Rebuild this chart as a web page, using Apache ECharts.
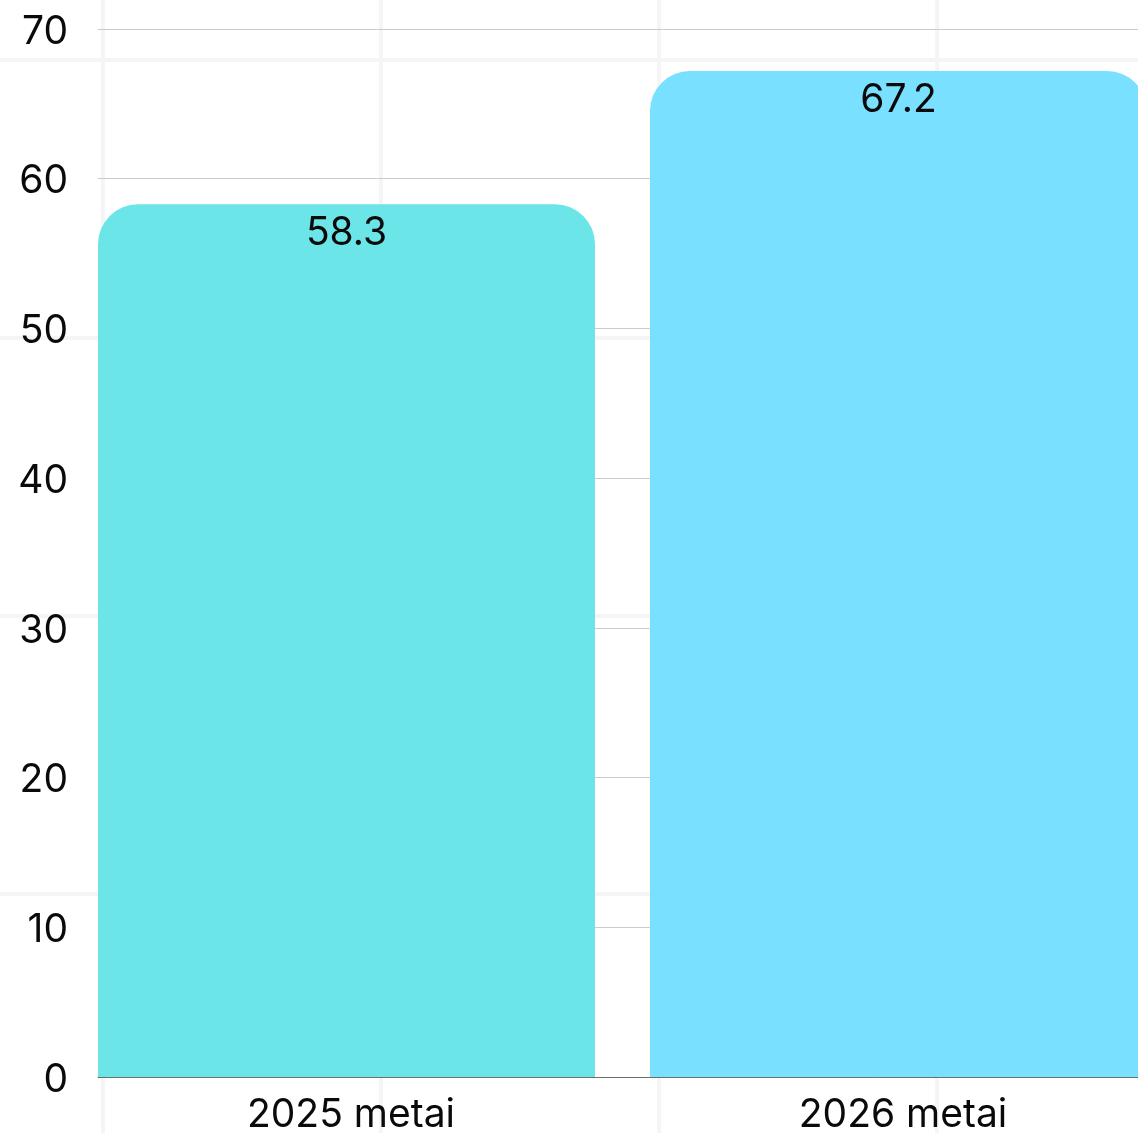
<!DOCTYPE html>
<html>
<head>
<meta charset="utf-8">
<script src="https://cdn.jsdelivr.net/npm/echarts@6/dist/echarts.min.js"></script>
<style>
  html, body { margin: 0; padding: 0; }
  body {
    width: 1138px; height: 1133px; overflow: hidden;
    background-color: #ffffff;
    background-image:
      linear-gradient(to right, #f5f5f7 0, #f5f5f7 4px, transparent 4px),
      linear-gradient(to bottom, #f5f5f7 0, #f5f5f7 4px, transparent 4px);
    background-size: 278px 100%, 100% 278px;
    background-position: 101px 0, 0 58px;
  }
  #chart { width: 1138px; height: 1133px; }
</style>
</head>
<body>
<div id="chart"></div>
<script>
const categories = ['2025 metai', '2026 metai'];
const values = [58.3, 67.2];
const barColors = ['#6ce5e8', '#7ae0ff'];
const yMin = 0;
const yMax = 70;
const yInterval = 10;

const chart = echarts.init(document.getElementById('chart'), null, { renderer: 'canvas' });
const fontFamily = 'Inter, Roboto, sans-serif';
const fontSize = 39;

const option = {
  backgroundColor: 'transparent',
  animation: false,
  grid: [
    { left: 98, right: 0, top: 29, bottom: 56, outerBoundsMode: 'none', containLabel: false },
    { left: 70.5, right: -36.5, top: 29, bottom: 56, outerBoundsMode: 'none', containLabel: false }
  ],
  xAxis: [
    {
      gridIndex: 0, type: 'category', data: categories,
      axisLabel: { show: false }, axisTick: { show: false },
      axisLine: { show: true, lineStyle: { color: '#6e6e6e', width: 1 } },
      splitLine: { show: false }
    },
    {
      gridIndex: 1, type: 'category', data: categories,
      axisLine: { show: false }, axisTick: { show: false }, splitLine: { show: false },
      axisLabel: {
        show: true, color: '#0a0a0a', fontSize: fontSize, fontFamily: fontFamily,
        margin: 19, padding: [0, 0, 0, 9]
      }
    }
  ],
  yAxis: [
    {
      gridIndex: 0, type: 'value', min: yMin, max: yMax, interval: yInterval,
      axisLine: { show: false }, axisTick: { show: false },
      axisLabel: {
        margin: 30,
        formatter: '{v|{value}}',
        rich: { v: { color: '#0a0a0a', fontSize: fontSize, fontFamily: fontFamily, padding: [6, 0, 0, 0] } }
      },
      splitLine: { show: true, lineStyle: { color: '#cccccc', width: 1 } }
    },
    {
      gridIndex: 1, type: 'value', min: yMin, max: yMax, interval: yInterval, show: false,
      splitLine: { show: false }
    }
  ],
  series: [
    {
      type: 'bar', xAxisIndex: 1, yAxisIndex: 1, barWidth: 497,
      data: values.map((v, i) => ({ value: v, itemStyle: { color: barColors[i] } })),
      itemStyle: { borderRadius: [40, 40, 0, 0] },
      label: {
        show: true, position: 'insideTop', distance: 10,
        color: '#0a0a0a', fontSize: fontSize, fontFamily: fontFamily
      },
      z: 3
    }
  ]
};
chart.setOption(option);
</script>
</body>
</html>
